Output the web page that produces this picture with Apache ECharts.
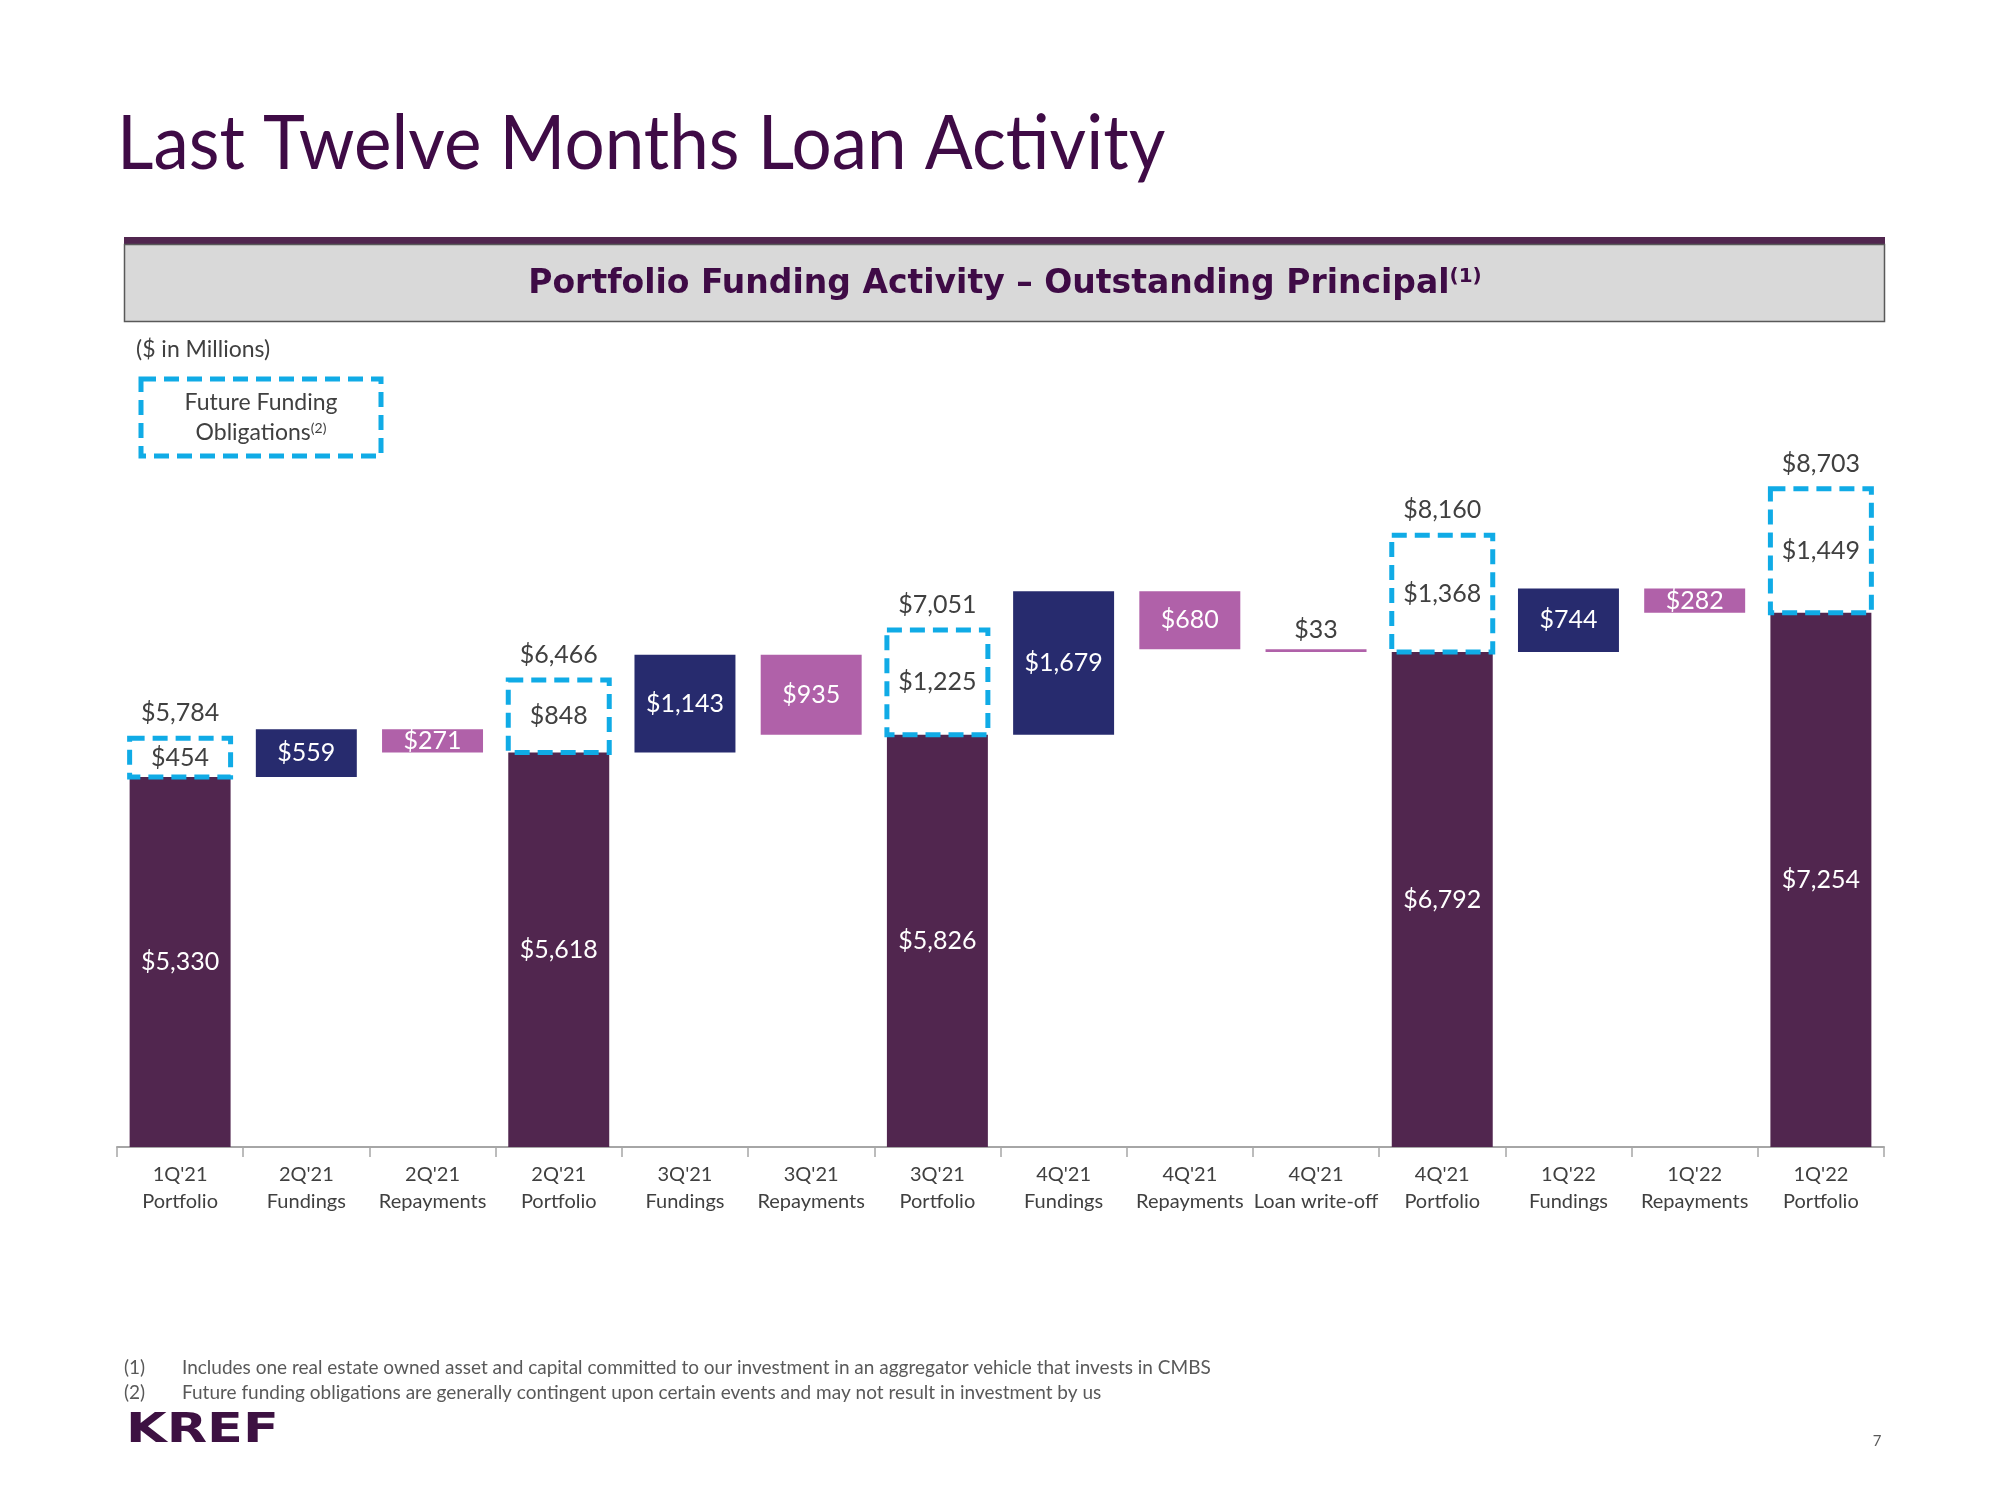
<!DOCTYPE html>
<html>
<head>
<meta charset="utf-8">
<style>
  html, body { margin: 0; padding: 0; background: #ffffff; }
  #chart { width: 2000px; height: 1500px; }
</style>
<script src="https://cdn.jsdelivr.net/npm/echarts@6/dist/echarts.min.js"></script>
</head>
<body>
<div id="chart"></div>
<script>
// ---------------- DATA ----------------
const categories = ["1Q'21\nPortfolio", "2Q'21\nFundings", "2Q'21\nRepayments", "2Q'21\nPortfolio",
  "3Q'21\nFundings", "3Q'21\nRepayments", "3Q'21\nPortfolio", "4Q'21\nFundings", "4Q'21\nRepayments",
  "4Q'21\nLoan write-off", "4Q'21\nPortfolio", "1Q'22\nFundings", "1Q'22\nRepayments", "1Q'22\nPortfolio"];
const kinds = ['portfolio', 'funding', 'repayment', 'portfolio', 'funding', 'repayment', 'portfolio',
  'funding', 'repayment', 'writeoff', 'portfolio', 'funding', 'repayment', 'portfolio'];
const amounts = [5330, 559, 271, 5618, 1143, 935, 5826, 1679, 680, 33, 6792, 744, 282, 7254];
const futureFunding = [454, null, null, 848, null, null, 1225, null, null, null, 1368, null, null, 1449];
const totalLabels = [5784, null, null, 6466, null, null, 7051, null, null, null, 8160, null, null, 8703];

// ---------------- STYLE ----------------
const Y_MIN = 1000, Y_MAX = 10000;
const COLORS = { portfolio: '#51264F', funding: '#272B6E', repayment: '#B061A9', writeoff: '#B061A9' };
const BLUE = '#10ABE6';
const GREY_TEXT = '#404040';
const FONT = 'Lato, "Noto Sans", sans-serif';
const DASH = [15, 8];

// Waterfall levels from data
const lows = [], highs = [];
let level = 0;
amounts.forEach((v, i) => {
  const k = kinds[i];
  if (k === 'portfolio') { lows.push(Y_MIN); highs.push(v); level = v; }
  else if (k === 'funding') { lows.push(level); highs.push(level + v); level += v; }
  else { highs.push(level); lows.push(level - v); level -= v; }
});

const fmt = v => '$' + v.toLocaleString('en-US');

const barData = categories.map((c, i) => [i, lows[i], highs[i]]);
const ffoData = [];
futureFunding.forEach((v, i) => { if (v != null) ffoData.push([i, amounts[i], amounts[i] + v, totalLabels[i]]); });

const chart = echarts.init(document.getElementById('chart'), null, { renderer: 'canvas' });

const option = {
  animation: false,
  backgroundColor: '#ffffff',
  grid: { left: 117, right: 116, top: 378, bottom: 353, containLabel: false },
  xAxis: {
    type: 'category',
    data: categories,
    axisLine: { lineStyle: { color: '#A6A6A6', width: 2 } },
    axisTick: { show: true, length: 10, interval: 0, lineStyle: { color: '#A6A6A6', width: 1.5 } },
    axisLabel: { interval: 0, color: GREY_TEXT, fontFamily: FONT, fontSize: 20, lineHeight: 27, margin: 14 }
  },
  yAxis: { type: 'value', min: Y_MIN, max: Y_MAX, show: false, splitLine: { show: false } },
  series: [
    {
      type: 'custom',
      data: barData,
      z: 2,
      renderItem: function (params, api) {
        const i = api.value(0);
        const lo = api.value(1), hi = api.value(2);
        const kind = kinds[i];
        const bandW = api.size([1, 0])[0];
        const w = bandW * 0.8;
        const pT = api.coord([i, hi]);
        const pB = api.coord([i, lo]);
        const h = Math.max(pB[1] - pT[1], 1);
        const children = [{
          type: 'rect',
          shape: { x: pT[0] - w / 2, y: pT[1], width: w, height: h },
          style: { fill: COLORS[kind] }
        }];
        const isWrite = kind === 'writeoff';
        children.push({
          type: 'text',
          style: {
            text: fmt(amounts[i]),
            x: pT[0], y: isWrite ? pT[1] - 19 : pT[1] + h / 2,
            align: 'center', verticalAlign: 'middle',
            fill: isWrite ? GREY_TEXT : '#ffffff',
            font: '25px ' + FONT
          },
          z2: 5
        });
        return { type: 'group', children: children };
      }
    },
    {
      type: 'custom',
      data: ffoData,
      z: 3,
      renderItem: function (params, api) {
        const i = api.value(0);
        const lo = api.value(1), hi = api.value(2), tot = api.value(3);
        const bandW = api.size([1, 0])[0];
        const w = bandW * 0.8;
        const pT = api.coord([i, hi]);
        const pB = api.coord([i, lo]);
        const h = pB[1] - pT[1];
        return {
          type: 'group',
          children: [
            {
              type: 'rect',
              shape: { x: pT[0] - w / 2, y: pT[1], width: w, height: h },
              style: { fill: 'none', stroke: BLUE, lineWidth: 5, lineDash: DASH }
            },
            {
              type: 'text',
              style: {
                text: fmt(futureFunding[i]), x: pT[0], y: pT[1] + h / 2,
                align: 'center', verticalAlign: 'middle', fill: GREY_TEXT, font: '25px ' + FONT
              }
            },
            {
              type: 'text',
              style: {
                text: fmt(tot), x: pT[0], y: pT[1] - 25,
                align: 'center', verticalAlign: 'middle', fill: GREY_TEXT, font: '25px ' + FONT
              }
            }
          ]
        };
      }
    }
  ],
  graphic: [
    { type: 'text', x: 117, y: 106, scaleX: 0.934, style: { text: 'Last Twelve Months Loan Activity', fill: '#3F0B46', font: '76px ' + FONT, verticalAlign: 'top' } },
    { type: 'rect', shape: { x: 124, y: 237, width: 1761, height: 8 }, style: { fill: '#51264F' } },
    { type: 'rect', shape: { x: 124.5, y: 244.5, width: 1760, height: 77 }, style: { fill: '#D9D9D9', stroke: '#595959', lineWidth: 1.5 } },
    {
      type: 'text', x: 1005, y: 284,
      style: {
        text: '{m|Portfolio Funding Activity – Outstanding Principal}{s|(1)}',
        align: 'center', verticalAlign: 'middle',
        rich: {
          m: { fontFamily: '"DejaVu Sans", Verdana, sans-serif', fontWeight: 'bold', fontSize: 33, fill: '#3F0B46' },
          s: { fontFamily: '"DejaVu Sans", Verdana, sans-serif', fontWeight: 'bold', fontSize: 20, fill: '#3F0B46', verticalAlign: 'top', padding: [0, 0, 14, 0] }
        }
      }
    },
    { type: 'text', x: 136, y: 350, style: { text: '($ in Millions)', fill: GREY_TEXT, font: '23px ' + FONT, verticalAlign: 'middle' } },
    { type: 'rect', shape: { x: 141, y: 379, width: 240, height: 77 }, style: { fill: 'none', stroke: BLUE, lineWidth: 5, lineDash: DASH } },
    { type: 'text', x: 261, y: 403, style: { text: 'Future Funding', fill: GREY_TEXT, font: '23px ' + FONT, align: 'center', verticalAlign: 'middle' } },
    {
      type: 'text', x: 261, y: 433,
      style: {
        text: '{m|Obligations}{s|(2)}', align: 'center', verticalAlign: 'middle',
        rich: {
          m: { fontFamily: FONT, fontSize: 23, fill: GREY_TEXT },
          s: { fontFamily: FONT, fontSize: 14, fill: GREY_TEXT, verticalAlign: 'top', padding: [0, 0, 9, 0] }
        }
      }
    },
    { type: 'text', x: 124, y: 1368, style: { text: '(1)', fill: '#595959', font: '19px ' + FONT, verticalAlign: 'middle' } },
    { type: 'text', x: 182, y: 1368, style: { text: 'Includes one real estate owned asset and capital committed to our investment in an aggregator vehicle that invests in CMBS', fill: '#595959', font: '19px ' + FONT, verticalAlign: 'middle' } },
    { type: 'text', x: 124, y: 1393, style: { text: '(2)', fill: '#595959', font: '19px ' + FONT, verticalAlign: 'middle' } },
    { type: 'text', x: 182, y: 1393, style: { text: 'Future funding obligations are generally contingent upon certain events and may not result in investment by us', fill: '#595959', font: '19px ' + FONT, verticalAlign: 'middle' } },
    { type: 'text', x: 126, y: 1431, scaleX: 1.28, style: { text: 'KREF', fill: '#3D1142', font: 'bold 41px "DejaVu Sans", sans-serif', verticalAlign: 'middle' } },
    { type: 'text', x: 1877, y: 1441, style: { text: '7', fill: '#595959', font: '15px ' + FONT, verticalAlign: 'middle', align: 'center' } }
  ]
};
chart.setOption(option);
</script>
</body>
</html>
